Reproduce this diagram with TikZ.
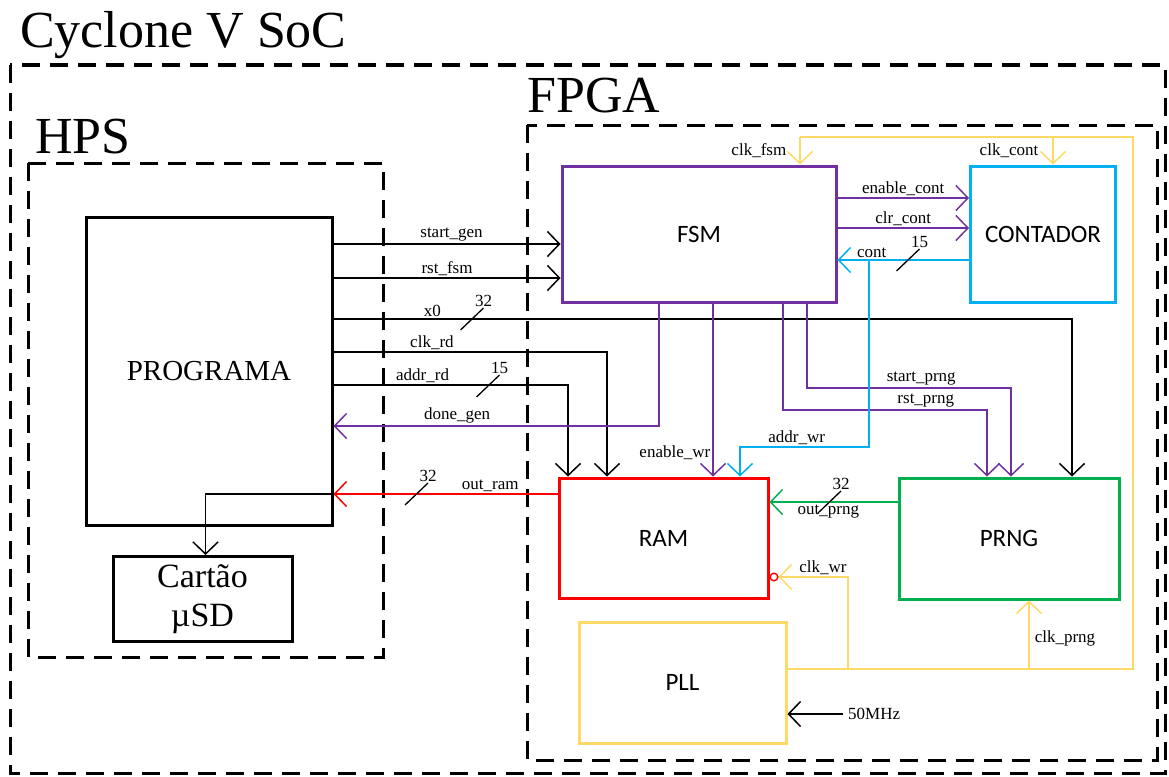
\documentclass[tikz,border=0pt]{standalone}
\usepackage{fontspec}
\setmainfont{Liberation Serif}
\newfontfamily\blockfont{Carlito}
\usetikzlibrary{arrows.meta,calc}
\definecolor{fsmc}{RGB}{112,48,160}
\definecolor{contc}{RGB}{0,176,240}
\definecolor{ramc}{RGB}{255,0,0}
\definecolor{prngc}{RGB}{0,176,80}
\definecolor{pllc}{RGB}{255,217,102}
\newcommand{\buswidth}[2]{\draw[tick] ([shift={(-11.5,11)}]#1) -- ([shift={(11.5,-11)}]#1)
  node[lbl,above,inner sep=1pt] {#2};}
\tikzset{
  blk/.style={draw,line width=3pt,font=\blockfont\fontsize{25}{30}\selectfont,inner sep=0pt},
  hblk/.style={blk,draw=black,font=\fontsize{29}{34}\selectfont},
  area/.style={draw,line width=3pt,dash pattern=on 18pt off 10pt},
  title/.style={font=\fontsize{52}{60}\selectfont,anchor=base west,inner sep=0pt},
  lbl/.style={font=\fontsize{17}{20}\selectfont,inner sep=2pt},
  wire/.style={line width=1.5pt},
  sig/.style={wire,-{Straight Barb[length=12pt,width=25pt]}},
  tick/.style={line width=1.3pt},
}

\begin{document}
\begin{tikzpicture}[x=1pt,y=-1pt]
\useasboundingbox (0,0) rectangle (1169,776);
% containers
\draw[area] (10,65) rectangle (1165,773);
\draw[area] (28,163) rectangle (383,657);
\draw[area] (527,125) rectangle (1157,760);
\node[title] (tsoc) at (20,48) {Cyclone V SoC};
\node[title] (thps) at (35,153) {HPS};
\node[title] (tfpga) at (527,112) {FPGA};
% blocks
\node[hblk, minimum width=246pt, minimum height=308pt] (prog) at (209,371.5) {PROGRAMA};
\node[hblk, font=\fontsize{34}{39}\selectfont, align=center,
      minimum width=179pt, minimum height=85pt] (sd) at (202.5,599) {Cartão\\µSD};
\node[blk, draw=fsmc, minimum width=274pt, minimum height=136pt] (fsm) at (699,234) {FSM};
\node[blk, draw=contc, minimum width=145pt, minimum height=136pt] (cnt) at (1043,234) {CONTADOR};
\node[blk, draw=ramc, minimum width=209pt, minimum height=120pt] (ram) at (663.5,538) {RAM};
\node[blk, draw=prngc, minimum width=220pt, minimum height=121pt] (prng) at (1009,538.5) {PRNG};
\node[blk, draw=pllc, minimum width=207pt, minimum height=121pt] (pll) at (682.5,682.5) {PLL};
% HPS <-> FPGA
\draw[sig] (prog.east |- 0,244) -- node[lbl,above,pos=0.52] {start\_gen} (fsm.west |- 0,244);
\draw[sig] (prog.east |- 0,278) -- node[lbl,above] {rst\_fsm} (fsm.west |- 0,278);
\draw[sig] (prog.east |- 0,319) -| node[lbl,above,pos=0.067] {x0} (prng.north -| 1072,0);
\draw[sig] (prog.east |- 0,352) -| node[lbl,above,pos=0.18] {clk\_rd} (ram.north -| 607,0);
\draw[sig] (prog.east |- 0,385) -| node[lbl,above,pos=0.19] {addr\_rd} (ram.north -| 568,0);
\draw[sig,draw=fsmc] (fsm.south -| 659,0) |- node[lbl,above,pos=0.81] {done\_gen} (prog.east |- 0,426);
\draw[sig,draw=ramc] (ram.west |- 0,494) -- node[lbl,above,pos=0.3] {out\_ram} (prog.east |- 0,494);
\draw[sig] (prog.east |- 0,494) -| ([xshift=3pt]sd.north);
% FSM outputs
\draw[sig,draw=fsmc] (fsm.south -| 713,0) -- node[lbl,left,pos=0.86] {enable\_wr} (ram.north -| 713,0);
\draw[sig,draw=fsmc] (fsm.south -| 807,0) |- node[lbl,above,pos=0.78] {start\_prng} (1011,388)
  -- (prng.north -| 1011,0);
\draw[sig,draw=fsmc] (fsm.south -| 783,0) |- node[lbl,above,pos=0.85] {rst\_prng} (987,410)
  -- (prng.north -| 987,0);
\draw[sig,draw=fsmc] (fsm.east |- 0,198) -- node[lbl,above] {enable\_cont} (cnt.west |- 0,198);
\draw[sig,draw=fsmc] (fsm.east |- 0,228) -- node[lbl,above] {clr\_cont} (cnt.west |- 0,228);
\draw[sig,draw=contc] (cnt.west |- 0,260) -- node[lbl,above,pos=0.74] {cont} (fsm.east |- 0,260);
\coordinate (brc) at (869,260);
\draw[sig,draw=contc] (brc) |- node[lbl,above,pos=0.78] {addr\_wr} (740,447) -- (ram.north -| 740,0);
\draw[sig,draw=prngc] (prng.west |- 0,502) -- node[lbl,below,pos=0.54] {out\_prng} (ram.east |- 0,502);
% clocks
\coordinate (ring) at (1133,137);
\coordinate (tfsm) at (800,137);
\coordinate (tcnt) at (1053,137);
\coordinate (twr) at (848,669);
\coordinate (tprng) at (1029,669);
\draw[wire,draw=pllc] (pll.east |- twr) -| (ring) -- (tfsm);
\draw[sig,draw=pllc] (tfsm) -- node[lbl,left=11pt] {clk\_fsm} (fsm.north -| tfsm);
\draw[sig,draw=pllc] (tcnt) -- node[lbl,left=12pt] {clk\_cont} (cnt.north -| tcnt);
\draw[wire,draw=pllc,-{Straight Barb[length=12pt,width=25pt] Circle[open,length=9pt,sep=0pt,line width=1.4pt,color=ramc]}]
  (twr) |- node[lbl,above,pos=0.66] {clk\_wr} (ram.east |- 0,577);
\draw[sig,draw=pllc] (tprng) -- node[lbl,right=3pt,pos=0.45] {clk\_prng} (prng.south -| tprng);
\node[lbl,anchor=west,inner xsep=5pt] (clkin) at (843,714) {50MHz};
\draw[sig] (clkin.west) -- (pll.east |- clkin.west);
% bus widths
\coordinate (bx0) at (472,319);
\coordinate (baddr) at (488,386);
\coordinate (bram) at (416.5,494);
\coordinate (bprng) at (829.5,502);
\coordinate (bcnt) at (908,260);
\buswidth{bx0}{32}
\buswidth{baddr}{15}
\buswidth{bram}{32}
\buswidth{bprng}{32}
\buswidth{bcnt}{15}
\end{tikzpicture}
\end{document}
